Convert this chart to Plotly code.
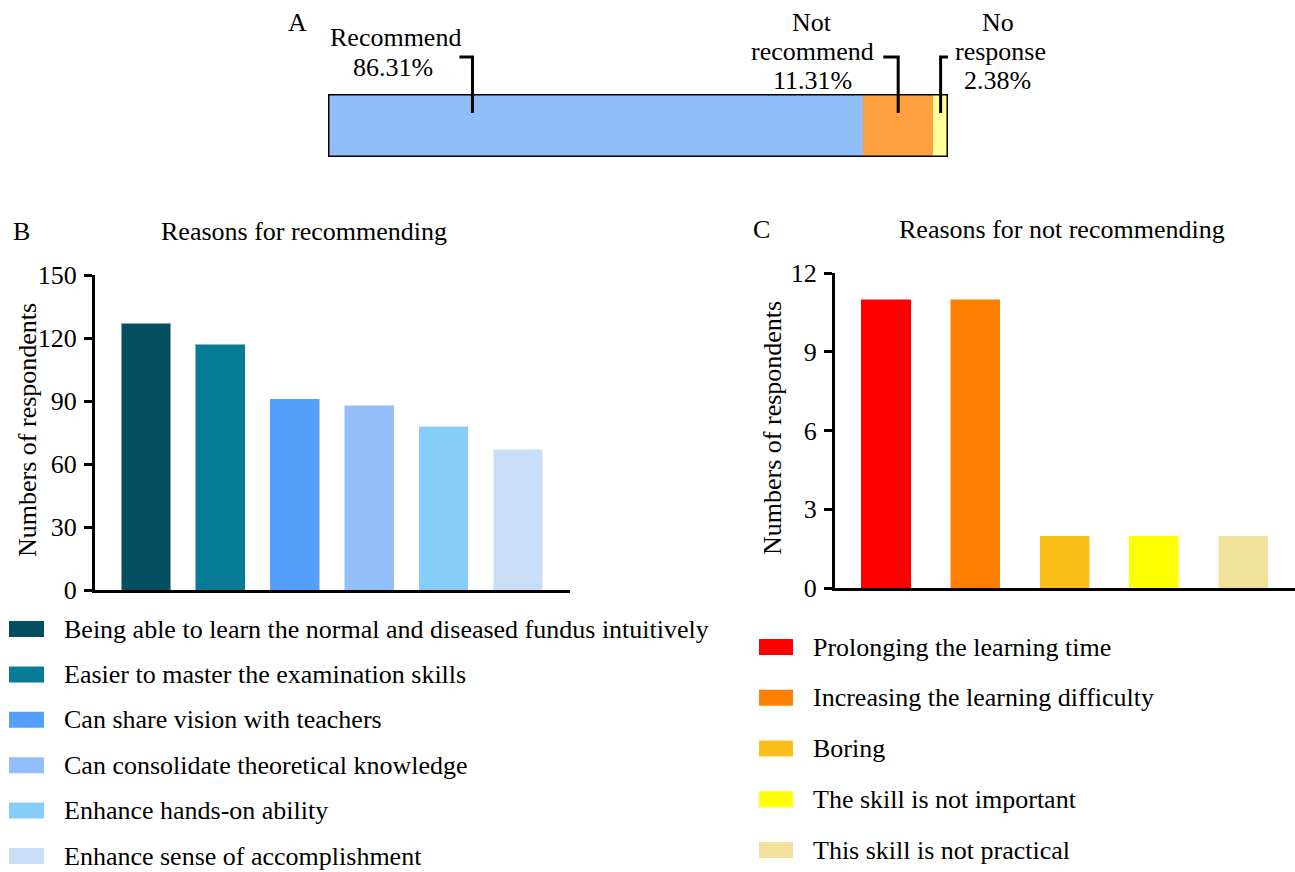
import plotly.graph_objects as go

# ---- data ----
overall_labels = ["Recommend", "Not recommend", "No response"]
overall_pct = [86.31, 11.31, 2.38]
overall_colors = ["#90BEF8", "#FFA040", "#FFFF99"]

rec_reasons = [
    "Being able to learn the normal and diseased fundus intuitively",
    "Easier to master the examination skills",
    "Can share vision with teachers",
    "Can consolidate theoretical knowledge",
    "Enhance hands-on ability",
    "Enhance sense of accomplishment",
]
rec_counts = [127, 117, 91, 88, 78, 67]
rec_colors = ["#044E60", "#077C97", "#55A0FA", "#92BFF8", "#87CDFA", "#C8DEF7"]
rec_ticks = [0, 30, 60, 90, 120, 150]

notrec_reasons = [
    "Prolonging the learning time",
    "Increasing the learning difficulty",
    "Boring",
    "The skill is not important",
    "This skill is not practical",
]
notrec_counts = [11, 11, 2, 2, 2]
notrec_colors = ["#FF0000", "#FF8000", "#FBBF1B", "#FFFF00", "#F1E19A"]
notrec_ticks = [0, 3, 6, 9, 12]

# ---- layout helpers (pixel -> paper) ----
W, H = 1295, 872
FONT = "Liberation Serif"
FS = 26


def fx(px):
    return px / W


def fy(py):
    return 1 - py / H


fig = go.Figure()

# ---- panel A: stacked proportion bar ----
starts = [sum(overall_pct[:i]) for i in range(len(overall_pct))]
for lab, val, col in zip(overall_labels, overall_pct, overall_colors):
    fig.add_trace(go.Bar(
        x=[val], y=[0], orientation="h", name=lab, width=1,
        marker=dict(color=col, line=dict(width=0)),
        xaxis="x", yaxis="y", showlegend=False, hoverinfo="skip",
    ))

# ---- panel B ----
fig.add_trace(go.Bar(
    x=list(range(len(rec_counts))), y=rec_counts, width=0.67,
    marker=dict(color=rec_colors, line=dict(width=1, color="rgba(255,255,255,0.5)")),
    xaxis="x2", yaxis="y2", showlegend=False, hoverinfo="skip",
))

# ---- panel C ----
fig.add_trace(go.Bar(
    x=list(range(len(notrec_counts))), y=notrec_counts, width=0.56,
    marker=dict(color=notrec_colors, line=dict(width=1, color="rgba(255,255,255,0.5)")),
    xaxis="x3", yaxis="y3", showlegend=False, hoverinfo="skip",
))

hidden = dict(visible=False, fixedrange=True, automargin=False)
tickfont = dict(family=FONT, size=FS, color="black")

fig.update_layout(
    width=W, height=H,
    margin=dict(l=0, r=0, t=0, b=0, pad=0, autoexpand=False),
    paper_bgcolor="white", plot_bgcolor="white",
    barmode="stack",
    showlegend=False,
    font=dict(family=FONT, size=FS, color="black"),
    xaxis=dict(domain=[fx(328), fx(948)], range=[0, 100], anchor="y", **hidden),
    yaxis=dict(domain=[fy(157), fy(94)], range=[-0.5, 0.5], anchor="x", **hidden),
    xaxis2=dict(domain=[fx(95), fx(570)], range=[-0.685, 5.70], anchor="y2",
                showline=True, linewidth=3, linecolor="black", automargin=False,
                showticklabels=False, ticks="", showgrid=False, zeroline=False),
    yaxis2=dict(domain=[fy(590), fy(275)], range=[0, 150], anchor="x2",
                tickvals=rec_ticks, ticks="outside", ticklen=8, tickwidth=3,
                tickcolor="black", showline=True, linewidth=3, linecolor="black",
                showgrid=False, zeroline=False, tickfont=tickfont,
                ticklabelstandoff=2, automargin=False),
    xaxis3=dict(domain=[fx(835), 1.0], range=[-0.571, 4.58], anchor="y3",
                showline=True, linewidth=3, linecolor="black", automargin=False,
                showticklabels=False, ticks="", showgrid=False, zeroline=False),
    yaxis3=dict(domain=[fy(588), fy(273)], range=[0, 12], anchor="x3",
                tickvals=notrec_ticks, ticks="outside", ticklen=8, tickwidth=3,
                tickcolor="black", showline=True, linewidth=3, linecolor="black",
                showgrid=False, zeroline=False, tickfont=tickfont,
                ticklabelstandoff=2, automargin=False),
)

shapes = []
annotations = []


def text(s, x, y, xanchor="center", size=FS, angle=0):
    annotations.append(dict(
        text=s, x=fx(x), y=fy(y), xref="paper", yref="paper",
        xanchor=xanchor, yanchor="middle", showarrow=False, textangle=angle,
        font=dict(family=FONT, size=size, color="black"),
    ))


# outline of the proportion bar
shapes.append(dict(type="rect", xref="x", yref="y", x0=0, x1=100, y0=-0.5, y1=0.5,
                   line=dict(color="black", width=3), fillcolor="rgba(0,0,0,0)"))

# leader lines from each label down into its segment
leader_frac = [0.27, 0.5, 0.5]
leader_arm = [-2.1, -2.4, 2.3]
for s0, val, frac, arm in zip(starts, overall_pct, leader_frac, leader_arm):
    lx = s0 + frac * val
    shapes.append(dict(
        type="path", xref="x", yref="paper",
        path=f"M {lx + arm},{fy(57)} L {lx},{fy(57)} L {lx},{fy(113)}",
        line=dict(color="black", width=3),
    ))

# panel A labels
text("A", 297, 22)
text("Recommend", 395, 37)
text(f"{overall_pct[0]:.2f}%", 393, 68)
text("Not", 812, 22)
text("recommend", 812, 51)
text(f"{overall_pct[1]:.2f}%", 812, 80)
text("No", 998, 22)
text("response", 1000, 51)
text(f"{overall_pct[2]:.2f}%", 998, 80)

# panel letters, titles and axis titles
text("B", 21, 231)
text("Reasons for recommending", 304, 231)
text("C", 761, 229)
text("Reasons for not recommending", 1062, 229)
text("Numbers of respondents", 27, 430, angle=-90)
text("Numbers of respondents", 772, 428, angle=-90)

# legend for panel B
for i, (lab, col) in enumerate(zip(rec_reasons, rec_colors)):
    cy = 629 + i * 45.4
    shapes.append(dict(type="rect", xref="paper", yref="paper",
                       x0=fx(9), x1=fx(44), y0=fy(cy + 8), y1=fy(cy - 8),
                       fillcolor=col, line=dict(width=0)))
    text(lab, 62, cy, xanchor="left")

# legend for panel C
for i, (lab, col) in enumerate(zip(notrec_reasons, notrec_colors)):
    cy = 647 + i * 50.75
    shapes.append(dict(type="rect", xref="paper", yref="paper",
                       x0=fx(759), x1=fx(793), y0=fy(cy + 8), y1=fy(cy - 8),
                       fillcolor=col, line=dict(width=0)))
    text(lab, 811, cy, xanchor="left")

fig.update_layout(shapes=shapes, annotations=annotations)
fig.write_html("out.html")
